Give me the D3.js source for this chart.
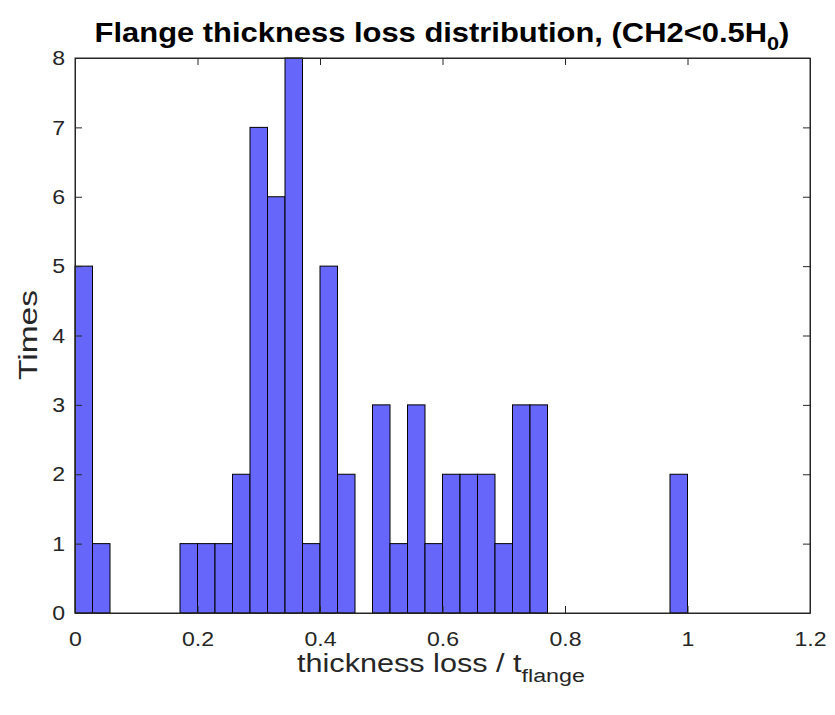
<!DOCTYPE html>
<html><head><meta charset="utf-8">
<script src="https://cdn.jsdelivr.net/npm/d3@7"></script>
<style>body{margin:0;background:#fff}svg{display:block}</style>
</head><body>
<script>
// 35 bins between 0 and 1 (edges i/35)
const binCount = 35;
const binMin = 0, binMax = 1;
const counts = [5,1,0,0,0,0,1,1,1,2,7,6,8,1,5,2,0,3,1,3,1,2,2,2,1,3,3,0,0,0,0,0,0,0,2];
const xTicks = [0,0.2,0.4,0.6,0.8,1,1.2];
const xTickLabels = ["0","0.2","0.4","0.6","0.8","1","1.2"];
const yTicks = [0,1,2,3,4,5,6,7,8];
const titleText = "Flange thickness loss distribution, (CH2<0.5H";
const titleSub = "0";

const W = 835, H = 715;
const m = {left:75, right:25, top:58, bottom:102};
const svg = d3.select("body").append("svg").attr("width",W).attr("height",H);
const pw = W - m.left - m.right, ph = H - m.top - m.bottom;
const g = svg.append("g").attr("transform",`translate(${m.left},${m.top})`);
const x = d3.scaleLinear().domain([0,1.2]).range([0,pw]);
const y = d3.scaleLinear().domain([0,8]).range([ph,0]);
const bw = (binMax-binMin)/binCount;
const bins = counts.map((c,i)=>({x0:binMin+i*bw, x1:binMin+(i+1)*bw, c}));

g.selectAll("rect.bar").data(bins.filter(d=>d.c>0)).enter().append("rect")
  .attr("class","bar")
  .attr("x",d=>x(d.x0)).attr("width",d=>x(d.x1)-x(d.x0))
  .attr("y",d=>y(d.c)).attr("height",d=>y(0)-y(d.c))
  .attr("fill","#6666fa").attr("stroke","#000").attr("stroke-width",1);

const font = "Liberation Sans, Arial, Helvetica, sans-serif";
const axColor = "#262626";
const sx = 1.1;
// axes
const xb = g.append("g").attr("transform",`translate(0,${ph})`)
  .call(d3.axisBottom(x).tickValues(xTicks).tickFormat((d,i)=>xTickLabels[i]).tickSizeInner(-7).tickSizeOuter(0).tickPadding(18));
const xt = g.append("g").call(d3.axisTop(x).tickValues(xTicks).tickFormat("").tickSizeInner(-7).tickSizeOuter(0));
const yl = g.append("g").call(d3.axisLeft(y).tickValues(yTicks).tickFormat(d3.format("d")).tickSizeInner(-7).tickSizeOuter(0).tickPadding(10));
const yr = g.append("g").attr("transform",`translate(${pw},0)`).call(d3.axisRight(y).tickValues(yTicks).tickFormat("").tickSizeInner(-7).tickSizeOuter(0));
[xb,xt,yl,yr].forEach(a=>{
  a.select(".domain").attr("stroke",axColor);
  a.selectAll(".tick line").attr("stroke",axColor);
  a.selectAll("text").attr("font-family",font).attr("font-size",21).attr("fill","#262626");
});
xb.selectAll(".tick text").attr("transform",`scale(${sx},1)`);
yl.selectAll(".tick text").attr("transform",`scale(${sx},1)`).attr("x",-10/sx);
g.append("rect").attr("x",0).attr("y",0).attr("width",pw).attr("height",ph)
  .attr("fill","none").attr("stroke",axColor).attr("stroke-width",1);

function fitWidth(sel, cx, target){
  const w = sel.node().getBBox().width;
  const s = target / w;
  sel.attr("transform",`translate(${cx},0) scale(${s},1) translate(${-cx},0)`);
}

// title
const t = svg.append("text").attr("x",442).attr("y",42).attr("text-anchor","middle")
  .attr("font-family",font).attr("font-weight","bold").attr("font-size",27).attr("fill","#000");
t.append("tspan").text(titleText);
t.append("tspan").attr("font-size",19).attr("dy",8).text(titleSub);
t.append("tspan").attr("dy",-8).text(")");
fitWidth(t, 442, 695);

// x label
const xlab = svg.append("text").attr("x",441).attr("y",672).attr("text-anchor","middle")
  .attr("font-family",font).attr("font-size",25).attr("fill","#262626");
xlab.append("tspan").text("thickness loss / t");
xlab.append("tspan").attr("font-size",19).attr("dy",10).text("flange");
fitWidth(xlab, 441, 288);

// y label
const ylab = svg.append("text").attr("text-anchor","middle")
  .attr("font-family",font).attr("font-size",26).attr("fill","#262626").text("Times");
const yw = ylab.node().getBBox().width;
ylab.attr("transform",`translate(37,335) rotate(-90) scale(${90/yw},1)`);
</script>
</body></html>
